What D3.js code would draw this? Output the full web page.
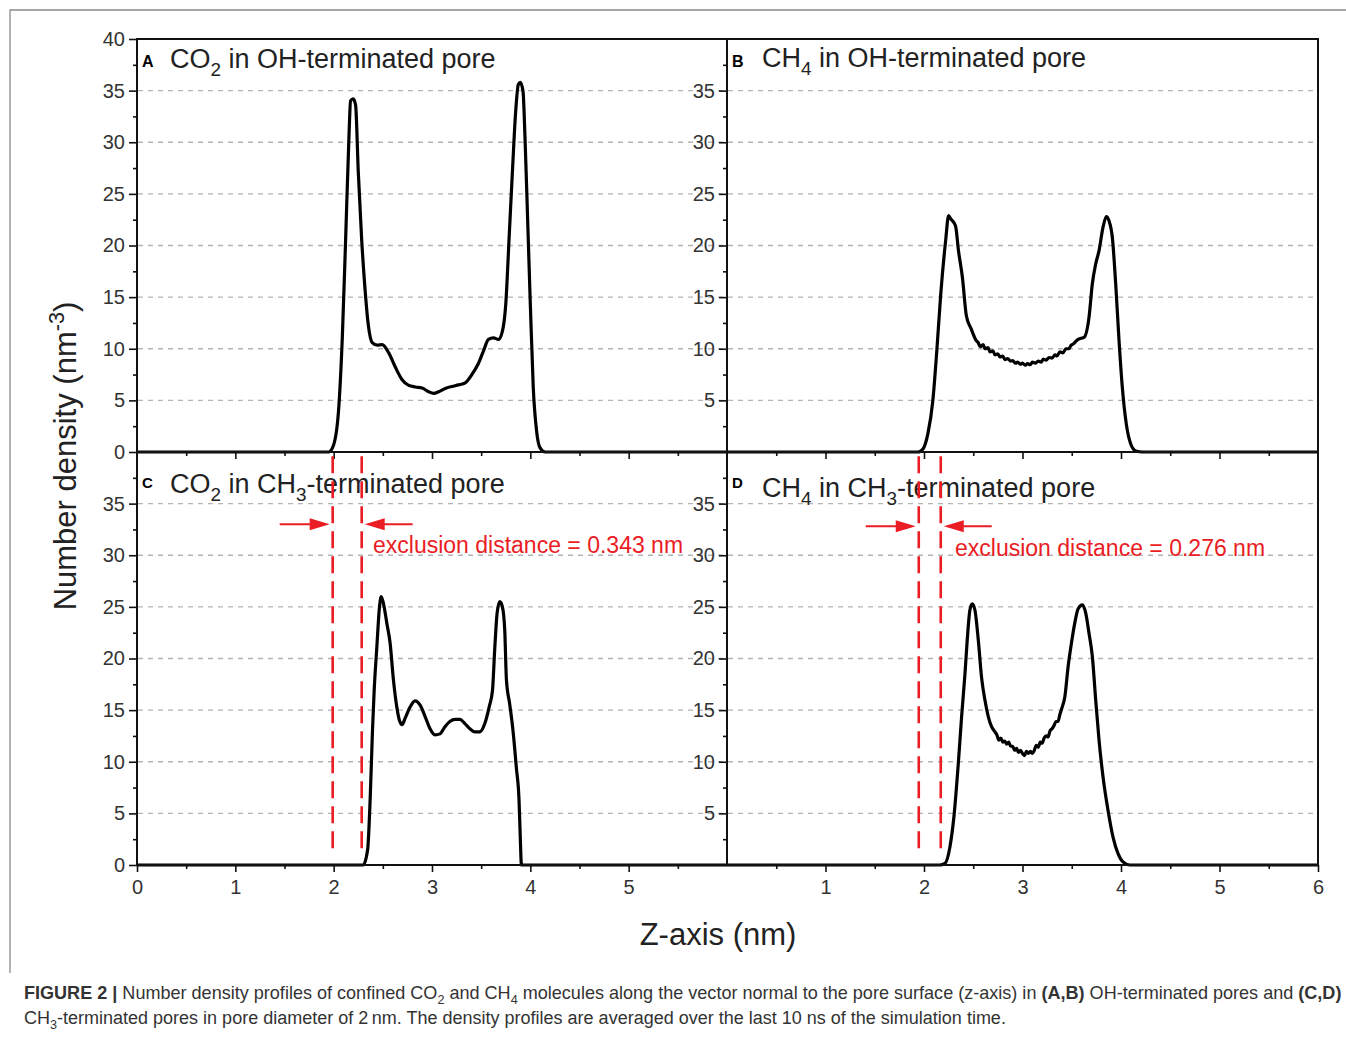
<!DOCTYPE html>
<html>
<head>
<meta charset="utf-8">
<script src="https://cdn.jsdelivr.net/npm/d3@7"></script>
<style>
  body { margin: 0; background: #fff; }
  svg text { font-family: "Liberation Sans", Arial, Helvetica, sans-serif; }
</style>
</head>
<body>
<div id="chart"></div>
<script>
// ---- data (z in nm, number density in nm^-3) ----
var co2OhZ = [0, 1.95, 2.00, 2.054, 2.088, 2.122, 2.155, 2.172, 2.199, 2.223, 2.25, 2.284, 2.318, 2.351, 2.392, 2.443, 2.493, 2.56, 2.628, 2.696, 2.764, 2.831, 2.899, 2.966, 3.017, 3.068, 3.135, 3.203, 3.27, 3.338, 3.405, 3.473, 3.524, 3.574, 3.625, 3.676, 3.716, 3.75, 3.784, 3.818, 3.851, 3.878, 3.899, 3.926, 3.946, 3.973, 4.0, 4.03, 4.064, 4.098, 4.15, 6];
var co2OhN = [0, 0, 0.7, 4.6, 11.1, 20.7, 30.4, 34.0, 34.2, 33.6, 27.2, 20.7, 15.9, 12.4, 10.6, 10.35, 10.4, 9.6, 8.2, 7.0, 6.45, 6.3, 6.2, 5.84, 5.68, 5.84, 6.16, 6.35, 6.5, 6.7, 7.5, 8.6, 9.8, 10.9, 11.06, 10.9, 11.7, 14.3, 20.7, 27.2, 33.0, 35.6, 35.8, 34.9, 30.4, 22.4, 14.3, 6.2, 2.0, 0.42, 0, 0];

var ch4OhZ = [0, 1.94, 1.99, 2.04, 2.09, 2.13, 2.17, 2.22, 2.25, 2.27, 2.32, 2.35, 2.39, 2.43, 2.48, 2.53, 2.55, 2.57, 2.60, 2.62, 2.65, 2.67, 2.70, 2.72, 2.75, 2.77, 2.80, 2.82, 2.85, 2.88, 2.90, 2.93, 2.95, 2.98, 3.00, 3.03, 3.05, 3.08, 3.10, 3.13, 3.16, 3.19, 3.21, 3.24, 3.27, 3.30, 3.33, 3.35, 3.38, 3.41, 3.44, 3.47, 3.49, 3.52, 3.55, 3.59, 3.625, 3.676, 3.709, 3.743, 3.777, 3.818, 3.851, 3.878, 3.912, 3.946, 3.98, 4.013, 4.054, 4.098, 4.15, 4.22, 6];
var ch4OhN = [0, 0, 0.3, 1.8, 5.0, 9.8, 15.3, 20.5, 22.9, 22.6, 21.9, 19.5, 16.9, 13.2, 11.9, 10.8, 10.6, 10.2, 10.4, 10.0, 10.1, 9.7, 9.8, 9.4, 9.5, 9.2, 9.3, 8.95, 9.05, 8.8, 8.85, 8.6, 8.7, 8.5, 8.6, 8.4, 8.55, 8.45, 8.7, 8.6, 8.8, 8.7, 9.0, 8.9, 9.15, 9.1, 9.4, 9.3, 9.7, 9.6, 10.0, 10.0, 10.3, 10.5, 10.8, 11.0, 11.1, 13.1, 16.3, 18.2, 19.5, 21.8, 22.8, 22.4, 20.8, 16.3, 10.8, 6.3, 2.7, 0.8, 0.1, 0, 0];

var co2Ch3Z = [0, 2.30, 2.345, 2.372, 2.395, 2.412, 2.439, 2.466, 2.483, 2.507, 2.541, 2.574, 2.608, 2.642, 2.669, 2.696, 2.726, 2.777, 2.828, 2.878, 2.929, 2.98, 3.03, 3.081, 3.132, 3.182, 3.233, 3.284, 3.334, 3.385, 3.436, 3.486, 3.537, 3.581, 3.615, 3.639, 3.662, 3.689, 3.716, 3.74, 3.757, 3.79, 3.825, 3.858, 3.885, 3.895, 3.91, 6];
var co2Ch3N = [0, 0, 1.45, 6.6, 13.1, 16.9, 21.1, 25.0, 26.0, 25.3, 23.4, 21.5, 17.9, 15.3, 14.0, 13.6, 14.2, 15.3, 15.9, 15.5, 14.4, 13.2, 12.6, 12.7, 13.4, 13.9, 14.1, 14.1, 13.7, 13.2, 12.9, 12.9, 13.7, 15.3, 16.9, 21.1, 24.4, 25.5, 25.0, 22.7, 17.9, 15.6, 12.9, 9.4, 6.3, 3.5, 0, 0];

var ch4Ch3Z = [0, 2.16, 2.213, 2.264, 2.304, 2.348, 2.382, 2.416, 2.439, 2.466, 2.49, 2.517, 2.551, 2.584, 2.618, 2.652, 2.686, 2.72, 2.74, 2.76, 2.78, 2.80, 2.82, 2.84, 2.86, 2.88, 2.90, 2.92, 2.94, 2.96, 2.98, 3.00, 3.02, 3.04, 3.06, 3.08, 3.10, 3.12, 3.14, 3.16, 3.18, 3.20, 3.22, 3.24, 3.26, 3.28, 3.30, 3.32, 3.34, 3.36, 3.38, 3.40, 3.43, 3.463, 3.497, 3.53, 3.564, 3.608, 3.642, 3.676, 3.709, 3.743, 3.777, 3.818, 3.868, 3.919, 3.97, 4.02, 4.09, 6];
var ch4Ch3N = [0, 0, 0.16, 1.8, 4.7, 9.8, 14.4, 18.5, 21.8, 24.7, 25.3, 24.7, 21.8, 18.2, 16.0, 14.4, 13.4, 12.9, 12.6, 12.1, 12.3, 11.9, 12.0, 11.7, 11.9, 11.5, 11.5, 11.1, 11.3, 10.9, 11.1, 10.8, 10.6, 11.0, 10.8, 11.0, 10.8, 11.1, 11.6, 11.4, 11.9, 11.8, 12.3, 12.5, 12.4, 13.0, 13.2, 13.5, 13.9, 13.9, 14.6, 15.2, 16.3, 19.2, 21.5, 23.4, 24.8, 25.2, 24.4, 22.4, 20.2, 16.0, 12.1, 8.5, 5.3, 2.7, 1.1, 0.3, 0, 0];

// exclusion-distance marks (panels C and D)
var exclC = [1.99, 2.285];
var exclD = [1.947, 2.17];
var exclLabels = ["exclusion distance = 0.343 nm", "exclusion distance = 0.276 nm"];

var yMajor = [5, 10, 15, 20, 25, 30, 35];
var yMinor = [2.5, 7.5, 12.5, 17.5, 22.5, 27.5, 32.5, 37.5];
var xTicksLeft = [0, 1, 2, 3, 4, 5];
var xTicksRight = [1, 2, 3, 4, 5, 6];
var xMinor = [0.5, 1.5, 2.5, 3.5, 4.5, 5.5];

var W = 1346, H = 1037;
var red = "#ea1c24";

var svg = d3.select("#chart").append("svg")
  .attr("width", W).attr("height", H)
  .attr("xmlns", "http://www.w3.org/2000/svg");

svg.append("rect").attr("width", W).attr("height", H).attr("fill", "#fff");

// outer figure frame (top and left only)
svg.append("path")
  .attr("d", "M10,973 L10,10 L1346,10")
  .attr("fill", "none").attr("stroke", "#8a8a8a").attr("stroke-width", 1.3);

var xL = d3.scaleLinear().domain([0, 6]).range([137, 727]);
var xR = d3.scaleLinear().domain([0, 6]).range([727, 1318]);
var yT = d3.scaleLinear().domain([0, 40]).range([452, 39]);
var yB = d3.scaleLinear().domain([0, 40]).range([865, 452]);

var panels = [
  {x: xL, y: yT, z: co2OhZ, n: co2OhN, letter: "A", mol: ["CO", "2"], rest: " in OH-terminated pore", yLab: [0, 5, 10, 15, 20, 25, 30, 35, 40], titleY: 68, letterY: 67, letterSize: 16},
  {x: xR, y: yT, z: ch4OhZ, n: ch4OhN, letter: "B", mol: ["CH", "4"], rest: " in OH-terminated pore", yLab: yMajor, titleY: 67, letterY: 67, letterSize: 16},
  {x: xL, y: yB, z: co2Ch3Z, n: co2Ch3N, letter: "C", mol: ["CO", "2"], rest: null, yLab: [0].concat(yMajor), titleY: 493, letterY: 488, letterSize: 15},
  {x: xR, y: yB, z: ch4Ch3Z, n: ch4Ch3N, letter: "D", mol: ["CH", "4"], rest: null, yLab: yMajor, titleY: 497, letterY: 488, letterSize: 15}
];

// gridlines
panels.forEach(function(p) {
  svg.append("g").selectAll("line")
    .data(yMajor).enter().append("line")
    .attr("x1", p.x.range()[0] + 1).attr("x2", p.x.range()[1] - 1)
    .attr("y1", function(d) { return p.y(d); })
    .attr("y2", function(d) { return p.y(d); })
    .attr("stroke", "#b4b4b4").attr("stroke-width", 1.3)
    .attr("stroke-dasharray", "5,5");
});

function styleAxis(g) {
  g.select(".domain").remove();
  g.selectAll(".tick line").attr("stroke", "#111").attr("stroke-width", 1.6);
  g.selectAll(".tick text").attr("fill", "#333").attr("font-size", 20)
    .attr("font-family", "'Liberation Sans', Arial, sans-serif");
}

// y axes
panels.forEach(function(p) {
  var x0 = p.x.range()[0];
  svg.append("g").attr("transform", "translate(" + x0 + ",0)")
    .call(d3.axisLeft(p.y).tickValues(p.yLab).tickSize(8).tickPadding(4).tickFormat(d3.format("d")))
    .call(styleAxis);
  svg.append("g").attr("transform", "translate(" + x0 + ",0)")
    .call(d3.axisLeft(p.y).tickValues(yMinor).tickSize(4).tickFormat(""))
    .call(styleAxis);
});

// x axes: bottom with labels, middle line ticks without labels
[[xL, xTicksLeft], [xR, xTicksRight]].forEach(function(a) {
  svg.append("g").attr("transform", "translate(0,865)")
    .call(d3.axisBottom(a[0]).tickValues(a[1]).tickSize(7).tickPadding(8).tickFormat(d3.format("d")))
    .call(styleAxis);
  svg.append("g").attr("transform", "translate(0,865)")
    .call(d3.axisBottom(a[0]).tickValues(xMinor).tickSize(4).tickFormat(""))
    .call(styleAxis);
  svg.append("g").attr("transform", "translate(0,452)")
    .call(d3.axisBottom(a[0]).tickValues([1, 2, 3, 4, 5]).tickSize(7).tickFormat(""))
    .call(styleAxis);
  svg.append("g").attr("transform", "translate(0,452)")
    .call(d3.axisBottom(a[0]).tickValues(xMinor).tickSize(4).tickFormat(""))
    .call(styleAxis);
});

// density curves
panels.forEach(function(p) {
  var pts = p.z.map(function(z, i) { return [z, p.n[i]]; });
  var line = d3.line()
    .x(function(d) { return p.x(d[0]); })
    .y(function(d) { return p.y(d[1]); })
    .curve(d3.curveMonotoneX);
  svg.append("path")
    .attr("d", line(pts))
    .attr("fill", "none").attr("stroke", "#000")
    .attr("stroke-width", 3.2).attr("stroke-linejoin", "round");
});

// frame lines
var frame = svg.append("g").attr("stroke", "#111").attr("stroke-width", 2).attr("fill", "none");
frame.append("rect").attr("x", 137).attr("y", 39).attr("width", 1318 - 137).attr("height", 865 - 39);
frame.append("line").attr("x1", 727).attr("x2", 727).attr("y1", 39).attr("y2", 865);
frame.append("line").attr("x1", 137).attr("x2", 1318).attr("y1", 452).attr("y2", 452);

// text with sub/superscripts
function richText(sel, parts, size) {
  var off = 0;
  parts.forEach(function(pt) {
    var target = pt.sub ? size * 0.3 : (pt.sup ? -size * 0.38 : 0);
    sel.append("tspan")
      .attr("dy", target - off)
      .attr("font-size", (pt.sub || pt.sup) ? size * 0.7 : size)
      .attr("font-weight", pt.b ? "bold" : null)
      .text(pt.t);
    off = target;
  });
}

// panel titles
panels.forEach(function(p, i) {
  var x0 = p.x.range()[0];
  svg.append("text")
    .attr("x", x0 + 5).attr("y", p.letterY)
    .attr("font-size", p.letterSize).attr("font-weight", "bold").attr("fill", "#000")
    .text(p.letter);
  var parts = [{t: p.mol[0]}, {t: p.mol[1], sub: true}];
  if (p.rest) parts.push({t: p.rest});
  else parts = parts.concat([{t: " in CH"}, {t: "3", sub: true}, {t: "-terminated pore"}]);
  var t = svg.append("text")
    .attr("x", x0 + (i % 2 === 0 ? 33 : 35)).attr("y", p.titleY)
    .attr("fill", "#222");
  richText(t, parts, 27);
});

// exclusion distance annotations
[[panels[2], exclC, 33.0, 30.2, exclLabels[0], 373], [panels[3], exclD, 32.8, 29.9, exclLabels[1], 955]].forEach(function(a) {
  var p = a[0], ex = a[1];
  var g = svg.append("g");
  g.selectAll("line.ex").data(ex).enter().append("line")
    .attr("x1", function(d) { return p.x(d); }).attr("x2", function(d) { return p.x(d); })
    .attr("y1", p.y(39.6)).attr("y2", p.y(1.6))
    .attr("stroke", red).attr("stroke-width", 2.6).attr("stroke-dasharray", "17,8");
  var ya = p.y(a[2]);
  var xa = p.x(ex[0]) - 3, xb = p.x(ex[1]) + 3;
  // right-pointing arrow
  g.append("line").attr("x1", xa - 50).attr("x2", xa - 16).attr("y1", ya).attr("y2", ya)
    .attr("stroke", red).attr("stroke-width", 2);
  g.append("path").attr("d", "M" + xa + "," + ya + " L" + (xa - 20) + "," + (ya - 6) + " L" + (xa - 20) + "," + (ya + 6) + "Z")
    .attr("fill", red);
  // left-pointing arrow
  g.append("line").attr("x1", xb + 16).attr("x2", xb + 48).attr("y1", ya).attr("y2", ya)
    .attr("stroke", red).attr("stroke-width", 2);
  g.append("path").attr("d", "M" + xb + "," + ya + " L" + (xb + 20) + "," + (ya - 6) + " L" + (xb + 20) + "," + (ya + 6) + "Z")
    .attr("fill", red);
  g.append("text").attr("x", a[5]).attr("y", p.y(a[3]))
    .attr("font-size", 23).attr("fill", red).text(a[4]);
});

// axis titles
svg.append("text")
  .attr("transform", "translate(76,456) rotate(-90)")
  .attr("text-anchor", "middle").attr("fill", "#222")
  .call(function(t) { richText(t, [{t: "Number density (nm"}, {t: "-3", sup: true}, {t: ")"}], 31); });

svg.append("text")
  .attr("x", 718).attr("y", 945)
  .attr("text-anchor", "middle").attr("font-size", 31).attr("fill", "#222")
  .text("Z-axis (nm)");

// caption
var cap1 = [
  {t: "FIGURE 2 | ", b: true},
  {t: "Number density profiles of confined CO"}, {t: "2", sub: true},
  {t: " and CH"}, {t: "4", sub: true},
  {t: " molecules along the vector normal to the pore surface (z-axis) in "},
  {t: "(A,B)", b: true}, {t: " OH-terminated pores and "}, {t: "(C,D)", b: true}
];
var cap2 = [
  {t: "CH"}, {t: "3", sub: true},
  {t: "-terminated pores in pore diameter of 2\u2009nm. The density profiles are averaged over the last 10 ns of the simulation time."}
];
[[cap1, 999, 1319], [cap2, 1024, 982]].forEach(function(c) {
  var t = svg.append("text").attr("fill", "#333").attr("x", 0).attr("y", 0);
  richText(t, c[0], 18);
  var w = t.node().getComputedTextLength();
  var k = c[2] / w;
  t.attr("transform", "translate(24," + c[1] + ") scale(" + k + ",1)");
});
</script>
</body>
</html>
